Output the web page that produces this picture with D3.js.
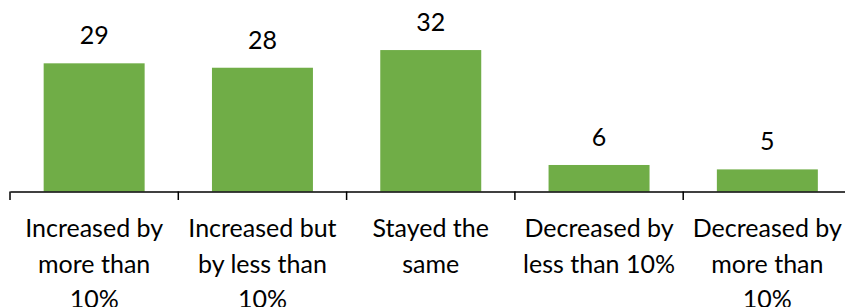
<!DOCTYPE html>
<html>
<head>
<meta charset="utf-8">
<script src="https://cdn.jsdelivr.net/npm/d3@7"></script>
<style>
  body { margin: 0; background: #fff; }
  text { font-family: Lato, "Open Sans", sans-serif; fill: #000; }
</style>
</head>
<body>
<script>
var categories = ["inc_more", "inc_less", "same", "dec_less", "dec_more"];
var tickLabels = [
  ["Increased by", "more than", "10%"],
  ["Increased but", "by less than", "10%"],
  ["Stayed the", "same"],
  ["Decreased by", "less than 10%"],
  ["Decreased by", "more than", "10%"]
];
var values = [29, 28, 32, 6, 5];

var width = 845, height = 307;
var baseY = 191.5;

var svg = d3.select("body").append("svg")
  .attr("width", width)
  .attr("height", height);

var x = d3.scaleBand()
  .domain(categories)
  .range([10, 851.5])
  .paddingInner(0.4)
  .paddingOuter(0.2);

var y = d3.scaleLinear()
  .domain([0, 35])
  .range([baseY, baseY - 4.42 * 35]);

// bars
svg.selectAll(".bar")
  .data(values)
  .enter().append("rect")
  .attr("class", "bar")
  .attr("x", function (d, i) { return x(categories[i]); })
  .attr("width", x.bandwidth())
  .attr("y", function (d) { return y(d); })
  .attr("height", function (d) { return y(0) - y(d); })
  .attr("fill", "#70AD47");

// value labels
svg.selectAll(".val")
  .data(values)
  .enter().append("text")
  .attr("class", "val")
  .attr("x", function (d, i) { return x(categories[i]) + x.bandwidth() / 2; })
  .attr("y", function (d) { return y(d) - 19; })
  .attr("text-anchor", "middle")
  .style("font-size", "25px")
  .text(function (d) { return d; });

// axis
var axis = svg.append("g")
  .attr("transform", "translate(0," + baseY + ")")
  .call(d3.axisBottom(x).tickSize(0).tickSizeOuter(0).tickFormat(""));

axis.select(".domain").attr("stroke", "#000").attr("stroke-width", 1.5);

// tick marks at band boundaries
var bounds = categories.map(function (c) { return x(c) - x.step() * x.paddingInner() / 2; });
axis.selectAll(".bound")
  .data(bounds)
  .enter().append("line")
  .attr("class", "bound")
  .attr("x1", function (d) { return d; })
  .attr("x2", function (d) { return d; })
  .attr("y1", 0)
  .attr("y2", 8.5)
  .attr("stroke", "#000")
  .attr("stroke-width", 1.5);

// multi-line category labels
var lbl = svg.selectAll(".cat")
  .data(tickLabels)
  .enter().append("text")
  .attr("class", "cat")
  .attr("text-anchor", "middle")
  .style("font-size", "25px")
  .attr("transform", function (d, i) {
    return "translate(" + (x(categories[i]) + x.bandwidth() / 2) + ",237)";
  });

lbl.selectAll("tspan")
  .data(function (d) { return d; })
  .enter().append("tspan")
  .attr("x", 0)
  .attr("y", function (d, i) { return i * 35.5; })
  .text(function (d) { return d; });
</script>
</body>
</html>
